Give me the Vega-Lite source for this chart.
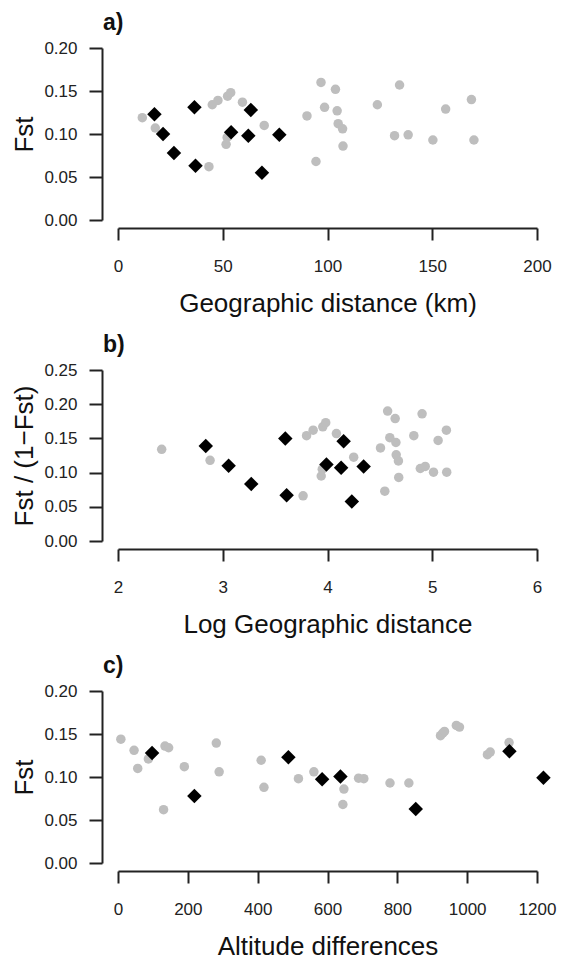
{
  "$schema": "https://vega.github.io/schema/vega-lite/v6.json",
  "padding": {"left": 11, "top": 12, "right": 5, "bottom": 0},
  "background": "white",
  "spacing": 18,
  "config": {
    "view": {"stroke": null},
    "font": "Liberation Sans",
    "axis": {
      "grid": false,
      "domainColor": "#222222",
      "tickColor": "#222222",
      "domainWidth": 2,
      "tickWidth": 2,
      "labelColor": "#222222",
      "titleColor": "#111111",
      "labelFont": "Liberation Sans",
      "titleFont": "Liberation Sans",
      "labelFontSize": 17,
      "titleFontSize": 26,
      "titleFontWeight": "normal",
      "labelFlush": false,
      "labelOverlap": false
    },
    "axisX": {"offset": 8, "tickSize": 12, "labelPadding": 18, "titlePadding": 16},
    "axisY": {"offset": 16, "tickSize": 13, "labelPadding": 12, "titlePadding": 6, "format": ".2f"},
    "title": {"font": "Liberation Sans", "fontSize": 23, "fontWeight": "bold", "anchor": "start", "frame": "group", "dx": -15, "baseline": "alphabetic", "offset": 4, "color": "#111111"}
  },
  "datasets": {
    "geo": [
      {"dist": 11.6, "fst": 0.119, "group": "other"},
      {"dist": 17.8, "fst": 0.107, "group": "other"},
      {"dist": 43.4, "fst": 0.062, "group": "other"},
      {"dist": 45.0, "fst": 0.134, "group": "other"},
      {"dist": 47.7, "fst": 0.139, "group": "other"},
      {"dist": 52.3, "fst": 0.144, "group": "other"},
      {"dist": 53.8, "fst": 0.148, "group": "other"},
      {"dist": 51.6, "fst": 0.088, "group": "other"},
      {"dist": 52.1, "fst": 0.096, "group": "other"},
      {"dist": 59.4, "fst": 0.137, "group": "other"},
      {"dist": 69.8, "fst": 0.110, "group": "other"},
      {"dist": 90.2, "fst": 0.121, "group": "other"},
      {"dist": 94.5, "fst": 0.068, "group": "other"},
      {"dist": 96.9, "fst": 0.160, "group": "other"},
      {"dist": 98.6, "fst": 0.131, "group": "other"},
      {"dist": 103.8, "fst": 0.152, "group": "other"},
      {"dist": 104.6, "fst": 0.127, "group": "other"},
      {"dist": 105.1, "fst": 0.112, "group": "other"},
      {"dist": 107.2, "fst": 0.106, "group": "other"},
      {"dist": 107.4, "fst": 0.086, "group": "other"},
      {"dist": 123.8, "fst": 0.134, "group": "other"},
      {"dist": 132.0, "fst": 0.098, "group": "other"},
      {"dist": 134.4, "fst": 0.157, "group": "other"},
      {"dist": 138.5, "fst": 0.099, "group": "other"},
      {"dist": 150.3, "fst": 0.093, "group": "other"},
      {"dist": 156.4, "fst": 0.129, "group": "other"},
      {"dist": 168.7, "fst": 0.140, "group": "other"},
      {"dist": 169.9, "fst": 0.093, "group": "other"},
      {"dist": 17.4, "fst": 0.123, "group": "focal"},
      {"dist": 21.5, "fst": 0.100, "group": "focal"},
      {"dist": 26.7, "fst": 0.078, "group": "focal"},
      {"dist": 36.5, "fst": 0.131, "group": "focal"},
      {"dist": 37.0, "fst": 0.063, "group": "focal"},
      {"dist": 54.0, "fst": 0.102, "group": "focal"},
      {"dist": 62.2, "fst": 0.098, "group": "focal"},
      {"dist": 63.4, "fst": 0.128, "group": "focal"},
      {"dist": 68.7, "fst": 0.055, "group": "focal"},
      {"dist": 77.0, "fst": 0.099, "group": "focal"}
    ],
    "loggeo": [
      {"logdist": 2.417, "ratio": 0.134, "group": "other"},
      {"logdist": 2.879, "ratio": 0.118, "group": "other"},
      {"logdist": 3.767, "ratio": 0.066, "group": "other"},
      {"logdist": 3.80, "ratio": 0.154, "group": "other"},
      {"logdist": 3.863, "ratio": 0.162, "group": "other"},
      {"logdist": 3.955, "ratio": 0.167, "group": "other"},
      {"logdist": 3.983, "ratio": 0.173, "group": "other"},
      {"logdist": 3.94, "ratio": 0.095, "group": "other"},
      {"logdist": 3.95, "ratio": 0.105, "group": "other"},
      {"logdist": 4.085, "ratio": 0.157, "group": "other"},
      {"logdist": 4.25, "ratio": 0.1226, "group": "other"},
      {"logdist": 4.506, "ratio": 0.136, "group": "other"},
      {"logdist": 4.547, "ratio": 0.0728, "group": "other"},
      {"logdist": 4.574, "ratio": 0.190, "group": "other"},
      {"logdist": 4.595, "ratio": 0.151, "group": "other"},
      {"logdist": 4.646, "ratio": 0.179, "group": "other"},
      {"logdist": 4.653, "ratio": 0.144, "group": "other"},
      {"logdist": 4.656, "ratio": 0.126, "group": "other"},
      {"logdist": 4.677, "ratio": 0.117, "group": "other"},
      {"logdist": 4.68, "ratio": 0.093, "group": "other"},
      {"logdist": 4.824, "ratio": 0.154, "group": "other"},
      {"logdist": 4.903, "ratio": 0.186, "group": "other"},
      {"logdist": 4.886, "ratio": 0.106, "group": "other"},
      {"logdist": 4.933, "ratio": 0.109, "group": "other"},
      {"logdist": 5.012, "ratio": 0.1006, "group": "other"},
      {"logdist": 5.056, "ratio": 0.147, "group": "other"},
      {"logdist": 5.135, "ratio": 0.162, "group": "other"},
      {"logdist": 5.138, "ratio": 0.1006, "group": "other"},
      {"logdist": 2.838, "ratio": 0.139, "group": "focal"},
      {"logdist": 3.056, "ratio": 0.110, "group": "focal"},
      {"logdist": 3.272, "ratio": 0.0835, "group": "focal"},
      {"logdist": 3.597, "ratio": 0.150, "group": "focal"},
      {"logdist": 3.610, "ratio": 0.0669, "group": "focal"},
      {"logdist": 3.99, "ratio": 0.112, "group": "focal"},
      {"logdist": 4.154, "ratio": 0.146, "group": "focal"},
      {"logdist": 4.13, "ratio": 0.107, "group": "focal"},
      {"logdist": 4.345, "ratio": 0.109, "group": "focal"},
      {"logdist": 4.232, "ratio": 0.0576, "group": "focal"}
    ],
    "alt": [
      {"altdiff": 8.2, "fst": 0.144, "group": "other"},
      {"altdiff": 46, "fst": 0.131, "group": "other"},
      {"altdiff": 56.5, "fst": 0.110, "group": "other"},
      {"altdiff": 87, "fst": 0.121, "group": "other"},
      {"altdiff": 130.5, "fst": 0.062, "group": "other"},
      {"altdiff": 134.6, "fst": 0.136, "group": "other"},
      {"altdiff": 145, "fst": 0.134, "group": "other"},
      {"altdiff": 190, "fst": 0.112, "group": "other"},
      {"altdiff": 281.5, "fst": 0.1395, "group": "other"},
      {"altdiff": 289.7, "fst": 0.106, "group": "other"},
      {"altdiff": 410, "fst": 0.1195, "group": "other"},
      {"altdiff": 418, "fst": 0.088, "group": "other"},
      {"altdiff": 516.8, "fst": 0.098, "group": "other"},
      {"altdiff": 561, "fst": 0.106, "group": "other"},
      {"altdiff": 647, "fst": 0.086, "group": "other"},
      {"altdiff": 644, "fst": 0.068, "group": "other"},
      {"altdiff": 689, "fst": 0.0986, "group": "other"},
      {"altdiff": 704, "fst": 0.098, "group": "other"},
      {"altdiff": 779, "fst": 0.093, "group": "other"},
      {"altdiff": 833, "fst": 0.093, "group": "other"},
      {"altdiff": 923.6, "fst": 0.148, "group": "other"},
      {"altdiff": 930, "fst": 0.151, "group": "other"},
      {"altdiff": 935, "fst": 0.153, "group": "other"},
      {"altdiff": 969, "fst": 0.160, "group": "other"},
      {"altdiff": 978, "fst": 0.158, "group": "other"},
      {"altdiff": 1058, "fst": 0.126, "group": "other"},
      {"altdiff": 1066, "fst": 0.129, "group": "other"},
      {"altdiff": 1120, "fst": 0.140, "group": "other"},
      {"altdiff": 97.6, "fst": 0.128, "group": "focal"},
      {"altdiff": 218.8, "fst": 0.0778, "group": "focal"},
      {"altdiff": 488, "fst": 0.123, "group": "focal"},
      {"altdiff": 584.6, "fst": 0.0975, "group": "focal"},
      {"altdiff": 637, "fst": 0.1006, "group": "focal"},
      {"altdiff": 852.7, "fst": 0.0628, "group": "focal"},
      {"altdiff": 1121, "fst": 0.130, "group": "focal"},
      {"altdiff": 1218.5, "fst": 0.099, "group": "focal"}
    ]
  },
  "vconcat": [
    {
      "title": "a)",
      "width": 419,
      "height": 172,
      "data": {"name": "geo"},
      "encoding": {
        "x": {"field": "dist", "type": "quantitative", "title": "Geographic distance (km)", "scale": {"domain": [0, 200], "nice": false, "zero": false}, "axis": {"values": [0, 50, 100, 150, 200]}},
        "y": {"field": "fst", "type": "quantitative", "title": "Fst", "scale": {"domain": [0, 0.2], "nice": false}, "axis": {"values": [0, 0.05, 0.1, 0.15, 0.2]}}
      },
      "layer": [
        {"transform": [{"filter": "datum.group === 'other'"}], "mark": {"type": "point", "shape": "circle", "filled": true, "size": 90, "color": "#bebebe", "opacity": 1}},
        {"transform": [{"filter": "datum.group === 'focal'"}], "mark": {"type": "point", "shape": "diamond", "filled": true, "size": 210, "color": "#000000", "opacity": 1}}
      ]
    },
    {
      "title": "b)",
      "width": 419,
      "height": 171,
      "data": {"name": "loggeo"},
      "encoding": {
        "x": {"field": "logdist", "type": "quantitative", "title": "Log Geographic distance", "scale": {"domain": [2, 6], "nice": false, "zero": false}, "axis": {"values": [2, 3, 4, 5, 6], "format": "d"}},
        "y": {"field": "ratio", "type": "quantitative", "title": "Fst / (1−Fst)", "scale": {"domain": [0, 0.25], "nice": false}, "axis": {"values": [0, 0.05, 0.1, 0.15, 0.2, 0.25]}}
      },
      "layer": [
        {"transform": [{"filter": "datum.group === 'other'"}], "mark": {"type": "point", "shape": "circle", "filled": true, "size": 90, "color": "#bebebe", "opacity": 1}},
        {"transform": [{"filter": "datum.group === 'focal'"}], "mark": {"type": "point", "shape": "diamond", "filled": true, "size": 210, "color": "#000000", "opacity": 1}}
      ]
    },
    {
      "title": "c)",
      "width": 419,
      "height": 172,
      "data": {"name": "alt"},
      "encoding": {
        "x": {"field": "altdiff", "type": "quantitative", "title": "Altitude differences", "scale": {"domain": [0, 1200], "nice": false, "zero": false}, "axis": {"values": [0, 200, 400, 600, 800, 1000, 1200], "format": "d"}},
        "y": {"field": "fst", "type": "quantitative", "title": "Fst", "scale": {"domain": [0, 0.2], "nice": false}, "axis": {"values": [0, 0.05, 0.1, 0.15, 0.2]}}
      },
      "layer": [
        {"transform": [{"filter": "datum.group === 'other'"}], "mark": {"type": "point", "shape": "circle", "filled": true, "size": 90, "color": "#bebebe", "opacity": 1}},
        {"transform": [{"filter": "datum.group === 'focal'"}], "mark": {"type": "point", "shape": "diamond", "filled": true, "size": 210, "color": "#000000", "opacity": 1}}
      ]
    }
  ]
}
